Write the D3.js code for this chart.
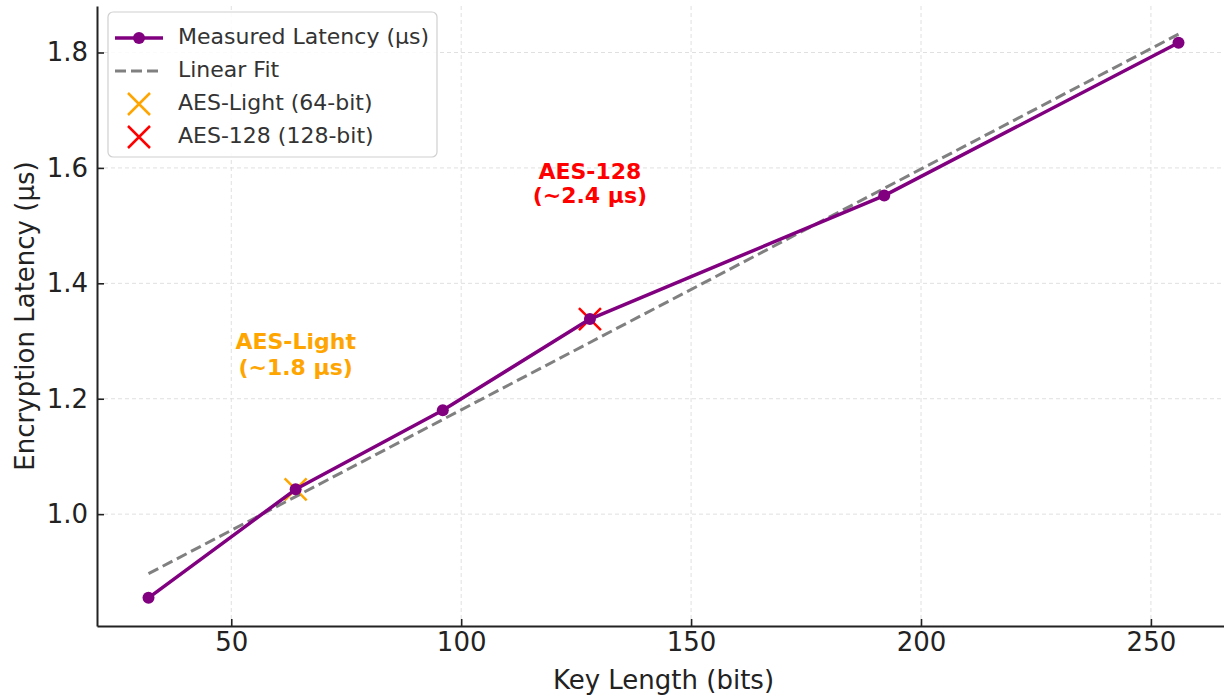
<!DOCTYPE html>
<html>
<head>
<meta charset="utf-8">
<script src="https://cdn.jsdelivr.net/npm/d3@7/dist/d3.min.js"></script>
<style>
  html, body { margin: 0; padding: 0; background: #fff; }
  svg { display: block; font-family: "DejaVu Sans", sans-serif; }
</style>
</head>
<body>
<svg id="chart" width="1224" height="696"></svg>
<script>
// ---- data ----
const keyLengths = [32, 64, 96, 128, 192, 256];
const latency = [0.855, 1.043, 1.18, 1.338, 1.552, 1.817];
const xTicks = [50, 100, 150, 200, 250];
const yTicks = [1.0, 1.2, 1.4, 1.6, 1.8];
const highlights = [
  { name: "AES-Light (64-bit)", key: 64, color: "#FFA500", label: ["AES-Light", "(~1.8 µs)"], lx: 64, ly: [1.297, 1.252] },
  { name: "AES-128 (128-bit)", key: 128, color: "#FF0000", label: ["AES-128", "(~2.4 µs)"], lx: 128, ly: [1.592, 1.550] }
];

// ---- linear fit (least squares on measured data) ----
const mx = d3.mean(keyLengths), my = d3.mean(latency);
const slope = d3.sum(keyLengths, (x, i) => (x - mx) * (latency[i] - my)) / d3.sum(keyLengths, x => (x - mx) ** 2);
const intercept = my - slope * mx;
const fitVals = keyLengths.map(x => intercept + slope * x);

// ---- scales ----
const svg = d3.select("#chart");
const xPad = (d3.max(keyLengths) - d3.min(keyLengths)) * 0.05;
const allY = latency.concat(fitVals);
const yPad = (d3.max(allY) - d3.min(allY)) * 0.05;
const x = d3.scaleLinear().domain([d3.min(keyLengths) - xPad, d3.max(keyLengths) + xPad]).range([97, 1230]);
const y = d3.scaleLinear().domain([d3.min(allY) - yPad, d3.max(allY) + yPad]).range([626, 6]);
const [x0, x1] = x.range();
const [y0, y1] = y.range();

// ---- grid ----
const grid = svg.append("g");
grid.selectAll(".vg").data(xTicks).enter().append("line")
  .attr("x1", d => x(d)).attr("x2", d => x(d)).attr("y1", y0).attr("y2", y1)
  .attr("stroke", "#e0e0e0").attr("stroke-width", 1).attr("stroke-dasharray", "4,3");
grid.selectAll(".hg").data(yTicks).enter().append("line")
  .attr("x1", x0).attr("x2", x1).attr("y1", d => y(d)).attr("y2", d => y(d))
  .attr("stroke", "#e0e0e0").attr("stroke-width", 1).attr("stroke-dasharray", "4,3");

// ---- highlight X markers (beneath line) ----
function xMarker(g, cx, cy, r, color) {
  g.append("path")
    .attr("d", `M${cx - r},${cy - r}L${cx + r},${cy + r}M${cx - r},${cy + r}L${cx + r},${cy - r}`)
    .attr("stroke", color).attr("stroke-width", 2.5).attr("fill", "none");
}
const hl = svg.append("g");
highlights.forEach(h => {
  const i = keyLengths.indexOf(h.key);
  xMarker(hl, x(h.key), y(latency[i]), 11, h.color);
});

// ---- linear fit line ----
svg.append("path")
  .datum(keyLengths.map((k, i) => [k, fitVals[i]]))
  .attr("d", d3.line().x(d => x(d[0])).y(d => y(d[1])))
  .attr("fill", "none").attr("stroke", "#808080").attr("stroke-width", 3)
  .attr("stroke-dasharray", "11,5");

// ---- measured line ----
svg.append("path")
  .datum(keyLengths.map((k, i) => [k, latency[i]]))
  .attr("d", d3.line().x(d => x(d[0])).y(d => y(d[1])))
  .attr("fill", "none").attr("stroke", "#800080").attr("stroke-width", 3.5)
  .attr("stroke-linejoin", "round");
svg.append("g").selectAll("circle").data(keyLengths).enter().append("circle")
  .attr("cx", d => x(d)).attr("cy", (d, i) => y(latency[i])).attr("r", 6)
  .attr("fill", "#800080");

// ---- annotations ----
highlights.forEach(h => {
  h.label.forEach((t, j) => {
    svg.append("text").attr("x", x(h.lx)).attr("y", y(h.ly[j]))
      .attr("text-anchor", "middle").attr("dominant-baseline", "middle")
      .attr("font-size", 22).attr("font-weight", "bold").attr("fill", h.color)
      .text(t);
  });
});

// ---- axes ----
const xAxis = svg.append("g").attr("transform", `translate(0,${y0})`)
  .call(d3.axisBottom(x).tickValues(xTicks).tickFormat(d3.format("d")).tickSizeInner(-7).tickSizeOuter(0).tickPadding(7));
const yAxis = svg.append("g").attr("transform", `translate(${x0},0)`)
  .call(d3.axisLeft(y).tickValues(yTicks).tickFormat(d3.format(".1f")).tickSizeInner(-7).tickSizeOuter(0).tickPadding(9));
[xAxis, yAxis].forEach(a => {
  a.select(".domain").attr("stroke", "#222").attr("stroke-width", 2);
  a.selectAll(".tick line").attr("stroke", "#222").attr("stroke-width", 1.6);
  a.selectAll(".tick text").attr("font-size", 26).attr("fill", "#222").attr("font-family", "DejaVu Sans");
});

// ---- axis labels ----
svg.append("text").attr("x", (x0 + x1) / 2).attr("y", 689).attr("text-anchor", "middle")
  .attr("font-size", 26).attr("fill", "#222").text("Key Length (bits)");
svg.append("text").attr("transform", `translate(26,${(y0 + y1) / 2}) rotate(-90)`)
  .attr("text-anchor", "middle").attr("dominant-baseline", "middle")
  .attr("font-size", 26).attr("fill", "#222").text("Encryption Latency (µs)");

// ---- legend ----
const lg = svg.append("g");
lg.append("rect").attr("x", 108).attr("y", 12).attr("width", 329).attr("height", 145)
  .attr("rx", 5).attr("fill", "#fff").attr("fill-opacity", 0.85).attr("stroke", "#d0d0d0").attr("stroke-width", 1.2);
const rows = [38, 71, 104, 137];
const legendItems = [
  { type: "line", name: "Measured Latency (µs)" },
  { type: "dash", name: "Linear Fit" }
].concat(highlights.map(h => ({ type: "x", name: h.name, color: h.color })));
legendItems.forEach((it, i) => {
  const cy = rows[i];
  if (it.type === "line") {
    lg.append("line").attr("x1", 115).attr("x2", 163).attr("y1", cy).attr("y2", cy)
      .attr("stroke", "#800080").attr("stroke-width", 3.5);
    lg.append("circle").attr("cx", 139).attr("cy", cy).attr("r", 6).attr("fill", "#800080");
  } else if (it.type === "dash") {
    lg.append("line").attr("x1", 115).attr("x2", 163).attr("y1", cy).attr("y2", cy)
      .attr("stroke", "#808080").attr("stroke-width", 3).attr("stroke-dasharray", "11,5");
  } else {
    xMarker(lg, 139, cy, 11, it.color);
  }
  lg.append("text").attr("x", 178).attr("y", cy).attr("dominant-baseline", "middle")
    .attr("font-size", 22).attr("fill", "#333").text(it.name);
});
</script>
</body>
</html>
